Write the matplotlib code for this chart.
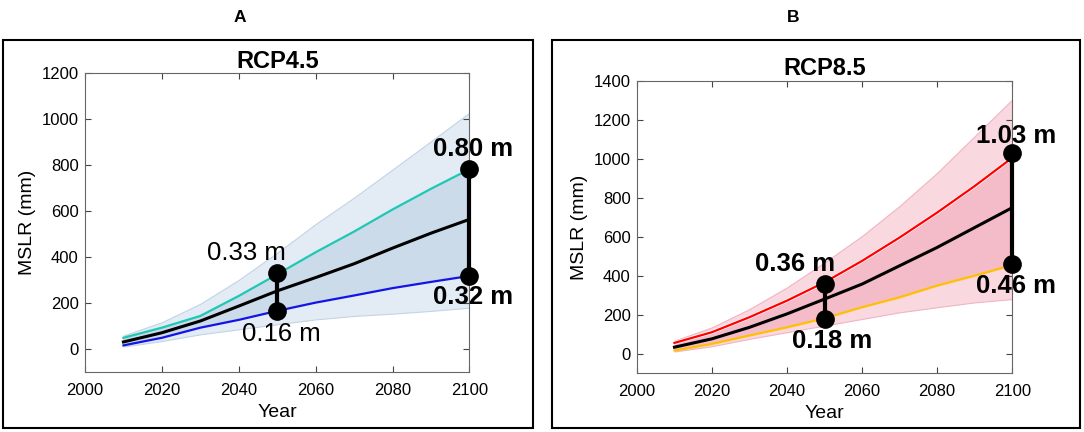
import matplotlib

matplotlib.use("Agg")

import matplotlib.pyplot as plt  # noqa: E402
from matplotlib.patches import Rectangle  # noqa: E402

years = [2010, 2020, 2030, 2040, 2050, 2060, 2070, 2080, 2090, 2100]

# RCP4.5 (mm)
rcp45_hi = [60, 118, 198, 302, 420, 545, 660, 782, 905, 1029]
rcp45_upper = [50, 94, 145, 232, 326, 422, 512, 608, 698, 783]
rcp45_median = [32, 72, 123, 188, 254, 312, 372, 440, 505, 565]
rcp45_lower = [17, 50, 94, 128, 167, 203, 234, 266, 293, 319]
rcp45_lo = [12, 36, 65, 87, 109, 130, 145, 155, 167, 181]

# RCP8.5 (mm)
rcp85_hi = [68, 136, 230, 341, 469, 605, 759, 929, 1117, 1305]
rcp85_upper = [56, 111, 188, 273, 367, 477, 597, 725, 861, 1006]
rcp85_median = [34, 77, 136, 205, 281, 358, 452, 546, 648, 750]
rcp85_lower = [17, 51, 94, 136, 182, 239, 290, 350, 401, 455]
rcp85_lo = [12, 39, 77, 111, 145, 179, 213, 239, 264, 281]

# marked points (year, mm) and labels
rcp45_marks = [2050, 2050, 2100, 2100]
rcp45_mark_vals = [330, 165, 785, 320]
rcp45_labels = ["0.33 m", "0.16 m", "0.80 m", "0.32 m"]
rcp85_marks = [2050, 2050, 2100, 2100]
rcp85_mark_vals = [360, 180, 1030, 460]
rcp85_labels = ["0.36 m", "0.18 m", "1.03 m", "0.46 m"]

fig = plt.figure(figsize=(10.84, 4.32), dpi=100)
plt.rcParams["font.family"] = ["Liberation Sans", "DejaVu Sans"]

panels = [
    {
        "rect": [0.0784, 0.1382, 0.3547, 0.6921],
        "box": [0.0031, 0.0093, 0.4883, 0.898],
        "letter": "A",
        "letter_x": 0.2214,
        "title": "RCP4.5",
        "hi": rcp45_hi, "up": rcp45_upper, "med": rcp45_median,
        "low": rcp45_lower, "lo": rcp45_lo,
        "outer": "#e3ebf5", "edge": "#c2d4e6", "inner": "#cbdbe9",
        "c_up": "#1ec8b4", "c_low": "#1414e6", "halo": False,
        "ylim": (-100, 1200), "yticks": range(0, 1201, 200),
        "marks": rcp45_marks, "vals": rcp45_mark_vals, "labels": rcp45_labels,
        "bold": [False, False, True, True],
        "label_pos": [(2042, 420), (2051, 65), (2101, 870), (2101, 228)],
    },
    {
        "rect": [0.5876, 0.1359, 0.3462, 0.6766],
        "box": [0.509, 0.0093, 0.4874, 0.898],
        "letter": "B",
        "letter_x": 0.7314,
        "title": "RCP8.5",
        "hi": rcp85_hi, "up": rcp85_upper, "med": rcp85_median,
        "low": rcp85_lower, "lo": rcp85_lo,
        "outer": "#f9d8df", "edge": "#f0b4c2", "inner": "#f4bcc8",
        "c_up": "#ff0000", "c_low": "#ffc000", "halo": True,
        "ylim": (-100, 1400), "yticks": range(0, 1401, 200),
        "marks": rcp85_marks, "vals": rcp85_mark_vals, "labels": rcp85_labels,
        "bold": [True, True, True, True],
        "label_pos": [(2042, 460), (2052, 68), (2101, 1117), (2101, 350)],
    },
]

for p in panels:
    fig.patches.append(
        Rectangle(
            (p["box"][0], p["box"][1]), p["box"][2], p["box"][3],
            transform=fig.transFigure, fill=False, edgecolor="black",
            linewidth=1.5,
        )
    )
    fig.text(p["letter_x"], 0.9586, p["letter"], ha="center", va="center",
             fontsize=12.5, fontweight="bold")

    ax = fig.add_axes(p["rect"])
    ax.fill_between(years, p["lo"], p["hi"], color=p["outer"],
                    edgecolor=p["edge"], linewidth=0.8, zorder=1)
    ax.fill_between(years, p["low"], p["up"], color=p["inner"],
                    linewidth=0, zorder=2)
    if p["halo"]:
        ax.plot(years, p["up"], color="white", linewidth=2.6, zorder=3)
    ax.plot(years, p["up"], color=p["c_up"], linewidth=1.6, zorder=3)
    ax.plot(years, p["low"], color=p["c_low"], linewidth=1.6, zorder=3)
    ax.plot(years, p["med"], color="black", linewidth=2.2, zorder=4)

    for i in (0, 2):
        ax.plot(p["marks"][i:i + 2], p["vals"][i:i + 2], color="black",
                linewidth=3, zorder=5, clip_on=False)
    ax.scatter(p["marks"], p["vals"], s=155, color="black", zorder=6,
               clip_on=False)

    for lab, (lx, ly), b in zip(p["labels"], p["label_pos"], p["bold"]):
        ax.text(lx, ly, lab, ha="center", va="center", fontsize=18.5,
                fontweight="bold" if b else "normal", zorder=7)

    ax.set_xlim(2000, 2100)
    ax.set_ylim(*p["ylim"])
    ax.set_xticks(range(2000, 2101, 20))
    ax.set_yticks(list(p["yticks"]))
    ax.tick_params(direction="in", top=True, right=True, length=4,
                   labelsize=12, color="#444444")
    ax.tick_params(axis="x", pad=8)
    ax.tick_params(axis="y", pad=4.5)
    for s in ax.spines.values():
        s.set_color("#666666")
        s.set_linewidth(0.8)
    ax.set_xlabel("Year", fontsize=14, labelpad=4)
    ax.set_ylabel("MSLR (mm)", fontsize=14, labelpad=4)
    ax.set_title(p["title"], fontsize=17, fontweight="bold", pad=4)

fig.savefig("out.png", dpi=100)
